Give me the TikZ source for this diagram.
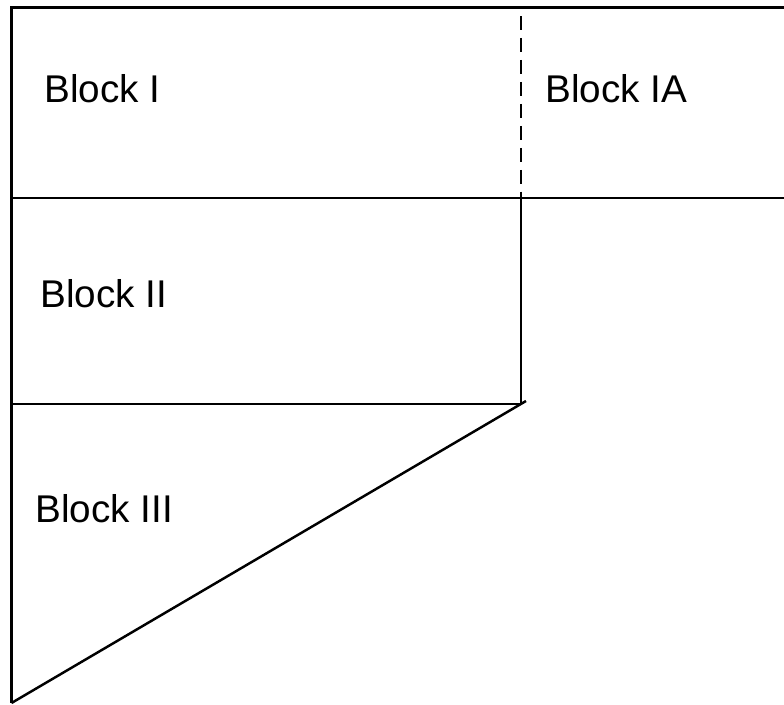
\documentclass[tikz,border=0pt]{standalone}
\usepackage{fontspec}
\setmainfont{Liberation Sans}
\begin{document}
\begin{tikzpicture}[scale=0.2]
    \tikzstyle{every node}+=[inner sep=0pt, anchor=base west, font=\fontsize{22}{26}\selectfont]
    \tikzstyle{wall}=[black, line width=1.4pt]
    \useasboundingbox (0,0) rectangle (78.4,-70.5);
    \draw [wall] (78.4,-0.75) -- (1.15,-0.75) -- (1.15,-70.3);
    \draw [wall] (1.15,-19.8) -- (78.4,-19.8);
    \draw [wall, dash pattern=on 8pt off 4.5pt] (52.1,-1.6) -- (52.1,-19.8);
    \draw [wall] (52.1,-19.8) -- (52.1,-40.4) -- (1.15,-40.4);
    \draw [wall] (52.6,-40.1) -- (1.15,-70.3);
    \node (blockI) at (4.4,-10.2) {Block I};
    \node (blockIA) at (54.5,-10.2) {Block IA};
    \node (blockII) at (4.0,-30.7) {Block II};
    \node (blockIII) at (3.5,-52.2) {Block III};
\end{tikzpicture}
\end{document}
